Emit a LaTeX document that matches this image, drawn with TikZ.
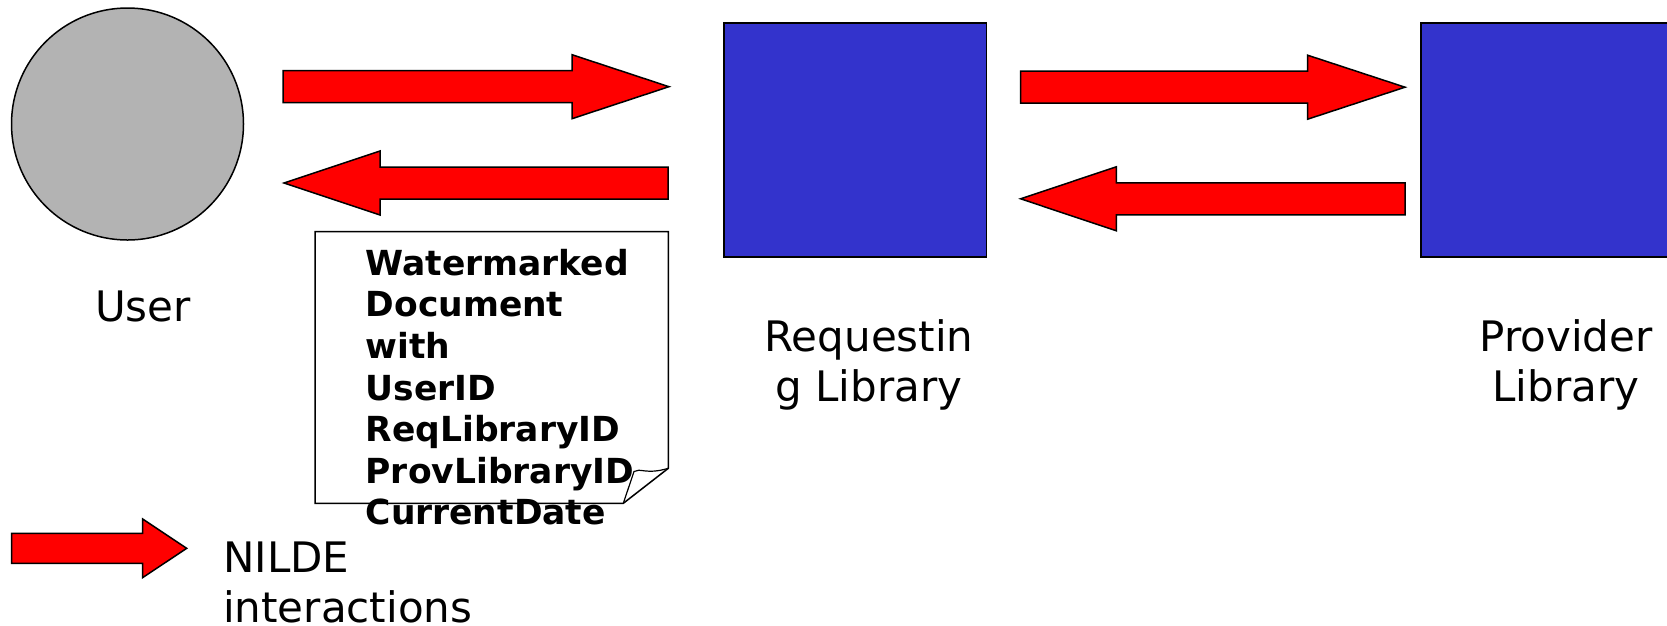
\documentclass[tikz,border=0pt]{standalone}
\usepackage{fontspec}
\setmainfont{DejaVu Sans}
\definecolor{arrowred}{RGB}{255,0,0}
\definecolor{boxblue}{RGB}{51,51,204}
\definecolor{usergray}{RGB}{179,179,179}
\newcommand\twolinec[2]{\vtop{\halign{\hfil##\hfil\cr#1\cr#2\cr}}}
\tikzset{
  blockarrow/.style={draw=black, line width=1.5pt, fill=arrowred, line join=miter},
  libbox/.style={draw=black, line width=1.5pt, fill=boxblue, inner sep=0pt, anchor=north west,
                 minimum width=262.5pt, minimum height=234pt},
  lbl/.style={font=\fontsize{42}{50}\selectfont, inner sep=0pt},
  doctext/.style={font=\bfseries\fontsize{34.5}{41.6}\selectfont, inner sep=0pt, anchor=base west},
  docpaper/.style={draw=black, line width=1.5pt, fill=white, line join=miter},
}
\begin{document}
\begin{tikzpicture}[x=1pt,y=-1pt]
\clip (0,0) rectangle (1667,625);
\fill[white] (0,0) rectangle (1667,625);

% actors
\node[circle, draw=black, line width=1.5pt, fill=usergray, minimum size=232pt, inner sep=0pt] (user) at (127.5,124) {};
\node[libbox] (req) at (723,22.3) {};
\node[libbox] (prov) at (1420,22.3) {};

% labels
\node[lbl, anchor=base] (userlbl) at (143,321.5) {User};
\node[lbl, anchor=base] (reqlbl) at (869,351.5) {\twolinec{Requestin}{g Library}};
\node[lbl, anchor=base] (provlbl) at (1566,351.5) {\twolinec{Provider}{Library}};

% block arrows
\draw[blockarrow] (283,70.7) -- (572,70.7) -- (572,54.7) -- (669,86.7) -- (572,118.7) -- (572,102.7) -- (283,102.7) -- cycle;
\draw[blockarrow] (668,167) -- (380,167) -- (380,151) -- (284,183) -- (380,215) -- (380,199) -- (668,199) -- cycle;
\draw[blockarrow] (1020.6,71.2) -- (1307.6,71.2) -- (1307.6,55.2) -- (1405,87.2) -- (1307.6,119.2) -- (1307.6,103.2) -- (1020.6,103.2) -- cycle;
\draw[blockarrow] (1405,182.8) -- (1116.3,182.8) -- (1116.3,166.8) -- (1020.6,198.8) -- (1116.3,230.8) -- (1116.3,214.8) -- (1405,214.8) -- cycle;

% watermarked document
\coordinate (dNW) at (315,231.7);
\coordinate (dNE) at (668.3,231.7);
\coordinate (dE) at (668.3,468.3);
\coordinate (dS) at (623.3,503.3);
\coordinate (dSW) at (315,503.3);
\draw[docpaper] (dNW) -- (dNE) -- (dE) -- (dS) -- (dSW) -- cycle;
\draw[line width=1.2pt, line join=miter] (dS) -- (634,471.5) .. controls (640,467.5) and (646,475) .. (dE);
\node[doctext] (doctxt) at (365.5,275.3) {\vtop{\hbox{Watermarked}\hbox{Document}\hbox{with}\hbox{UserID}\hbox{ReqLibraryID}\hbox{ProvLibraryID}\hbox{CurrentDate}}};

% legend
\draw[blockarrow] (11.7,533.3) -- (142.7,533.3) -- (142.7,519) -- (186.7,548.3) -- (142.7,577.6) -- (142.7,563.3) -- (11.7,563.3) -- cycle;
\node[lbl, anchor=base west] (legend) at (223,572) {\vtop{\hbox{NILDE}\hbox{interactions}}};
\end{tikzpicture}
\end{document}
